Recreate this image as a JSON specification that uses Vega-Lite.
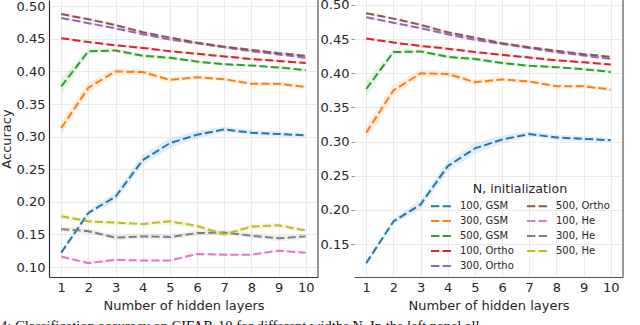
{
  "$schema": "https://vega.github.io/schema/vega-lite/v6.json",
  "padding": {"left": 0, "top": -2, "right": 0, "bottom": 0},
  "background": "white",
  "config": {
    "font": "DejaVu Sans",
    "view": {"stroke": null},
    "axis": {"labelFont": "DejaVu Sans", "titleFont": "DejaVu Sans", "labelFontSize": 13, "titleFontSize": 13, "titleFontWeight": "normal", "labelColor": "#262626", "titleColor": "#262626", "gridColor": "#ebebeb", "gridWidth": 1, "labelOverlap": false},
    "legend": {"labelFont": "DejaVu Sans", "titleFont": "DejaVu Sans"}
  },
  "title": {"text": "\u00a0\u00a04: Classification accuracy on CIFAR-10 for different widths N. In the left panel all", "orient": "bottom", "anchor": "start", "font": "Liberation Serif", "fontSize": 14.5, "fontWeight": "normal", "color": "#111", "offset": 8},
  "datasets": {
    "acc": [
      {"s": "100, GSM", "l": 1, "a": 0.122, "lo": 0.119, "hi": 0.125},
      {"s": "100, GSM", "l": 2, "a": 0.183, "lo": 0.179, "hi": 0.187},
      {"s": "100, GSM", "l": 3, "a": 0.208, "lo": 0.201, "hi": 0.215},
      {"s": "100, GSM", "l": 4, "a": 0.264, "lo": 0.256, "hi": 0.272},
      {"s": "100, GSM", "l": 5, "a": 0.290, "lo": 0.282, "hi": 0.298},
      {"s": "100, GSM", "l": 6, "a": 0.303, "lo": 0.297, "hi": 0.309},
      {"s": "100, GSM", "l": 7, "a": 0.311, "lo": 0.307, "hi": 0.315},
      {"s": "100, GSM", "l": 8, "a": 0.306, "lo": 0.302, "hi": 0.310},
      {"s": "100, GSM", "l": 9, "a": 0.304, "lo": 0.300, "hi": 0.308},
      {"s": "100, GSM", "l": 10, "a": 0.302, "lo": 0.299, "hi": 0.305},
      {"s": "300, GSM", "l": 1, "a": 0.313, "lo": 0.303, "hi": 0.323},
      {"s": "300, GSM", "l": 2, "a": 0.375, "lo": 0.367, "hi": 0.383},
      {"s": "300, GSM", "l": 3, "a": 0.400, "lo": 0.395, "hi": 0.405},
      {"s": "300, GSM", "l": 4, "a": 0.399, "lo": 0.395, "hi": 0.403},
      {"s": "300, GSM", "l": 5, "a": 0.387, "lo": 0.383, "hi": 0.391},
      {"s": "300, GSM", "l": 6, "a": 0.391, "lo": 0.388, "hi": 0.394},
      {"s": "300, GSM", "l": 7, "a": 0.388, "lo": 0.385, "hi": 0.391},
      {"s": "300, GSM", "l": 8, "a": 0.381, "lo": 0.378, "hi": 0.384},
      {"s": "300, GSM", "l": 9, "a": 0.381, "lo": 0.378, "hi": 0.384},
      {"s": "300, GSM", "l": 10, "a": 0.376, "lo": 0.373, "hi": 0.379},
      {"s": "500, GSM", "l": 1, "a": 0.377, "lo": 0.365, "hi": 0.389},
      {"s": "500, GSM", "l": 2, "a": 0.431, "lo": 0.427, "hi": 0.435},
      {"s": "500, GSM", "l": 3, "a": 0.432, "lo": 0.429, "hi": 0.435},
      {"s": "500, GSM", "l": 4, "a": 0.424, "lo": 0.421, "hi": 0.427},
      {"s": "500, GSM", "l": 5, "a": 0.421, "lo": 0.418, "hi": 0.424},
      {"s": "500, GSM", "l": 6, "a": 0.415, "lo": 0.412, "hi": 0.418},
      {"s": "500, GSM", "l": 7, "a": 0.411, "lo": 0.409, "hi": 0.413},
      {"s": "500, GSM", "l": 8, "a": 0.409, "lo": 0.407, "hi": 0.411},
      {"s": "500, GSM", "l": 9, "a": 0.406, "lo": 0.404, "hi": 0.408},
      {"s": "500, GSM", "l": 10, "a": 0.402, "lo": 0.400, "hi": 0.404},
      {"s": "100, Ortho", "l": 1, "a": 0.451, "lo": 0.449, "hi": 0.453},
      {"s": "100, Ortho", "l": 2, "a": 0.445, "lo": 0.443, "hi": 0.447},
      {"s": "100, Ortho", "l": 3, "a": 0.440, "lo": 0.438, "hi": 0.442},
      {"s": "100, Ortho", "l": 4, "a": 0.436, "lo": 0.434, "hi": 0.438},
      {"s": "100, Ortho", "l": 5, "a": 0.431, "lo": 0.429, "hi": 0.433},
      {"s": "100, Ortho", "l": 6, "a": 0.427, "lo": 0.425, "hi": 0.429},
      {"s": "100, Ortho", "l": 7, "a": 0.423, "lo": 0.421, "hi": 0.425},
      {"s": "100, Ortho", "l": 8, "a": 0.419, "lo": 0.417, "hi": 0.421},
      {"s": "100, Ortho", "l": 9, "a": 0.416, "lo": 0.414, "hi": 0.418},
      {"s": "100, Ortho", "l": 10, "a": 0.413, "lo": 0.411, "hi": 0.415},
      {"s": "300, Ortho", "l": 1, "a": 0.482, "lo": 0.480, "hi": 0.484},
      {"s": "300, Ortho", "l": 2, "a": 0.474, "lo": 0.472, "hi": 0.476},
      {"s": "300, Ortho", "l": 3, "a": 0.466, "lo": 0.464, "hi": 0.468},
      {"s": "300, Ortho", "l": 4, "a": 0.457, "lo": 0.455, "hi": 0.459},
      {"s": "300, Ortho", "l": 5, "a": 0.449, "lo": 0.447, "hi": 0.451},
      {"s": "300, Ortho", "l": 6, "a": 0.443, "lo": 0.441, "hi": 0.445},
      {"s": "300, Ortho", "l": 7, "a": 0.437, "lo": 0.435, "hi": 0.439},
      {"s": "300, Ortho", "l": 8, "a": 0.431, "lo": 0.429, "hi": 0.433},
      {"s": "300, Ortho", "l": 9, "a": 0.426, "lo": 0.424, "hi": 0.428},
      {"s": "300, Ortho", "l": 10, "a": 0.421, "lo": 0.419, "hi": 0.423},
      {"s": "500, Ortho", "l": 1, "a": 0.488, "lo": 0.486, "hi": 0.490},
      {"s": "500, Ortho", "l": 2, "a": 0.480, "lo": 0.478, "hi": 0.482},
      {"s": "500, Ortho", "l": 3, "a": 0.471, "lo": 0.469, "hi": 0.473},
      {"s": "500, Ortho", "l": 4, "a": 0.460, "lo": 0.458, "hi": 0.462},
      {"s": "500, Ortho", "l": 5, "a": 0.452, "lo": 0.450, "hi": 0.454},
      {"s": "500, Ortho", "l": 6, "a": 0.444, "lo": 0.442, "hi": 0.446},
      {"s": "500, Ortho", "l": 7, "a": 0.438, "lo": 0.436, "hi": 0.440},
      {"s": "500, Ortho", "l": 8, "a": 0.433, "lo": 0.431, "hi": 0.435},
      {"s": "500, Ortho", "l": 9, "a": 0.428, "lo": 0.426, "hi": 0.430},
      {"s": "500, Ortho", "l": 10, "a": 0.424, "lo": 0.422, "hi": 0.426},
      {"s": "100, He", "l": 1, "a": 0.116, "lo": 0.114, "hi": 0.118},
      {"s": "100, He", "l": 2, "a": 0.106, "lo": 0.104, "hi": 0.108},
      {"s": "100, He", "l": 3, "a": 0.111, "lo": 0.109, "hi": 0.113},
      {"s": "100, He", "l": 4, "a": 0.110, "lo": 0.108, "hi": 0.112},
      {"s": "100, He", "l": 5, "a": 0.110, "lo": 0.108, "hi": 0.112},
      {"s": "100, He", "l": 6, "a": 0.120, "lo": 0.118, "hi": 0.122},
      {"s": "100, He", "l": 7, "a": 0.119, "lo": 0.117, "hi": 0.121},
      {"s": "100, He", "l": 8, "a": 0.119, "lo": 0.117, "hi": 0.121},
      {"s": "100, He", "l": 9, "a": 0.125, "lo": 0.123, "hi": 0.127},
      {"s": "100, He", "l": 10, "a": 0.122, "lo": 0.120, "hi": 0.124},
      {"s": "300, He", "l": 1, "a": 0.158, "lo": 0.154, "hi": 0.162},
      {"s": "300, He", "l": 2, "a": 0.155, "lo": 0.151, "hi": 0.159},
      {"s": "300, He", "l": 3, "a": 0.145, "lo": 0.141, "hi": 0.149},
      {"s": "300, He", "l": 4, "a": 0.147, "lo": 0.143, "hi": 0.151},
      {"s": "300, He", "l": 5, "a": 0.146, "lo": 0.142, "hi": 0.150},
      {"s": "300, He", "l": 6, "a": 0.152, "lo": 0.148, "hi": 0.156},
      {"s": "300, He", "l": 7, "a": 0.153, "lo": 0.149, "hi": 0.157},
      {"s": "300, He", "l": 8, "a": 0.148, "lo": 0.144, "hi": 0.152},
      {"s": "300, He", "l": 9, "a": 0.144, "lo": 0.140, "hi": 0.148},
      {"s": "300, He", "l": 10, "a": 0.147, "lo": 0.143, "hi": 0.151},
      {"s": "500, He", "l": 1, "a": 0.178, "lo": 0.173, "hi": 0.183},
      {"s": "500, He", "l": 2, "a": 0.170, "lo": 0.166, "hi": 0.174},
      {"s": "500, He", "l": 3, "a": 0.168, "lo": 0.165, "hi": 0.171},
      {"s": "500, He", "l": 4, "a": 0.166, "lo": 0.163, "hi": 0.169},
      {"s": "500, He", "l": 5, "a": 0.170, "lo": 0.165, "hi": 0.175},
      {"s": "500, He", "l": 6, "a": 0.163, "lo": 0.160, "hi": 0.166},
      {"s": "500, He", "l": 7, "a": 0.150, "lo": 0.147, "hi": 0.153},
      {"s": "500, He", "l": 8, "a": 0.162, "lo": 0.158, "hi": 0.166},
      {"s": "500, He", "l": 9, "a": 0.164, "lo": 0.160, "hi": 0.168},
      {"s": "500, He", "l": 10, "a": 0.156, "lo": 0.153, "hi": 0.159}
    ]
  },
  "spacing": 36,
  "bounds": "flush",
  "resolve": {"scale": {"color": "independent", "y": "independent", "x": "independent"}, "legend": {"color": "independent"}},
  "hconcat": [
    {
      "width": 269,
      "height": 277,
      "data": {"name": "acc"},
      "encoding": {
        "x": {"field": "l", "type": "quantitative", "scale": {"domain": [0.55, 10.45], "nice": false, "zero": false},
          "axis": {"values": [1,2,3,4,5,6,7,8,9,10], "format": "d", "title": "Number of hidden layers", "grid": true, "ticks": false, "domain": true, "domainColor": "#333333", "domainWidth": 1.2, "labelPadding": 4, "titlePadding": 5, "labelOverlap": false}},
        "y": {"field": "lo", "type": "quantitative", "scale": {"domain": [0.0847, 0.5095], "nice": false, "zero": false},
          "axis": {"values": [0.1,0.15,0.2,0.25,0.3,0.35,0.4,0.45,0.5], "format": ".2f", "title": "Accuracy", "grid": true, "ticks": false, "domain": true, "domainColor": "#333333", "domainWidth": 1.2, "labelPadding": 4, "titlePadding": 3, "labelOverlap": false}},
        "color": {"field": "s", "type": "nominal", "legend": null,
          "scale": {"domain": ["100, GSM","300, GSM","500, GSM","100, Ortho","300, Ortho","500, Ortho","100, He","300, He","500, He"],
            "range": ["#1f77b4","#ff7f0e","#2ca02c","#d62728","#9467bd","#8c564b","#e377c2","#7f7f7f","#bcbd22"]}}
      },
      "layer": [
        {
          "mark": {"type": "area", "opacity": 0.13, "clip": true},
          "encoding": {
            "y2": {"field": "hi"}
          }
        },
        {
          "mark": {"type": "line", "strokeWidth": 2, "strokeDash": [8, 3.4], "clip": true},
          "encoding": {
            "y": {"field": "a", "type": "quantitative"}
          }
        },
        {
          "mark": {"type": "rule", "strokeWidth": 1.5},
          "encoding": {"x": {"datum": 10.45}, "y": null, "color": {"value": "#999999"}}
        }
      ]
    },
    {
      "width": 269,
      "height": 277,
      "data": {"name": "acc"},
      "transform": [{"filter": "indexof(datum.s, 'He') < 0"}],
      "encoding": {
        "x": {"field": "l", "type": "quantitative", "scale": {"domain": [0.55, 10.45], "nice": false, "zero": false},
          "axis": {"values": [1,2,3,4,5,6,7,8,9,10], "format": "d", "title": "Number of hidden layers", "grid": true, "ticks": false, "domain": true, "domainColor": "#555555", "domainWidth": 1.2, "labelPadding": 4, "titlePadding": 5, "labelOverlap": false}},
        "y": {"field": "lo", "type": "quantitative", "scale": {"domain": [0.1017, 0.5073], "nice": false, "zero": false},
          "axis": {"values": [0.15,0.2,0.25,0.3,0.35,0.4,0.45,0.5], "format": ".2f", "title": null, "grid": true, "ticks": true, "tickSize": 3, "tickColor": "#888888", "domain": false, "labelPadding": 2, "labelOverlap": false}},
        "color": {"field": "s", "type": "nominal",
          "scale": {"domain": ["100, GSM","300, GSM","500, GSM","100, Ortho","300, Ortho","500, Ortho","100, He","300, He","500, He"],
            "range": ["#1f77b4","#ff7f0e","#2ca02c","#d62728","#9467bd","#8c564b","#e377c2","#7f7f7f","#bcbd22"]},
          "legend": {"orient": "none", "legendX": 76, "legendY": 183, "columns": 2, "columnPadding": 12, "rowPadding": 0, "clipHeight": 14.5,
            "symbolType": "stroke", "symbolSize": 400, "symbolStrokeWidth": 2, "symbolDash": [8.3, 3.3], "symbolOpacity": 1,
            "labelFontSize": 10, "labelOffset": 8, "labelColor": "#262626",
            "title": "N, initialization", "titleFontSize": 12.7, "titleFontWeight": "normal", "titleColor": "#262626", "titleAnchor": "middle", "titlePadding": 3, "padding": 0}}
      },
      "layer": [
        {
          "mark": {"type": "area", "opacity": 0.13, "clip": true},
          "encoding": {
            "y2": {"field": "hi"}
          }
        },
        {
          "mark": {"type": "line", "strokeWidth": 2, "strokeDash": [8, 3.4], "clip": true},
          "encoding": {
            "y": {"field": "a", "type": "quantitative"}
          }
        },
        {
          "mark": {"type": "rule", "strokeWidth": 2},
          "encoding": {"x": {"datum": 10.45}, "y": null, "color": {"value": "#999999"}}
        }
      ]
    }
  ]
}
